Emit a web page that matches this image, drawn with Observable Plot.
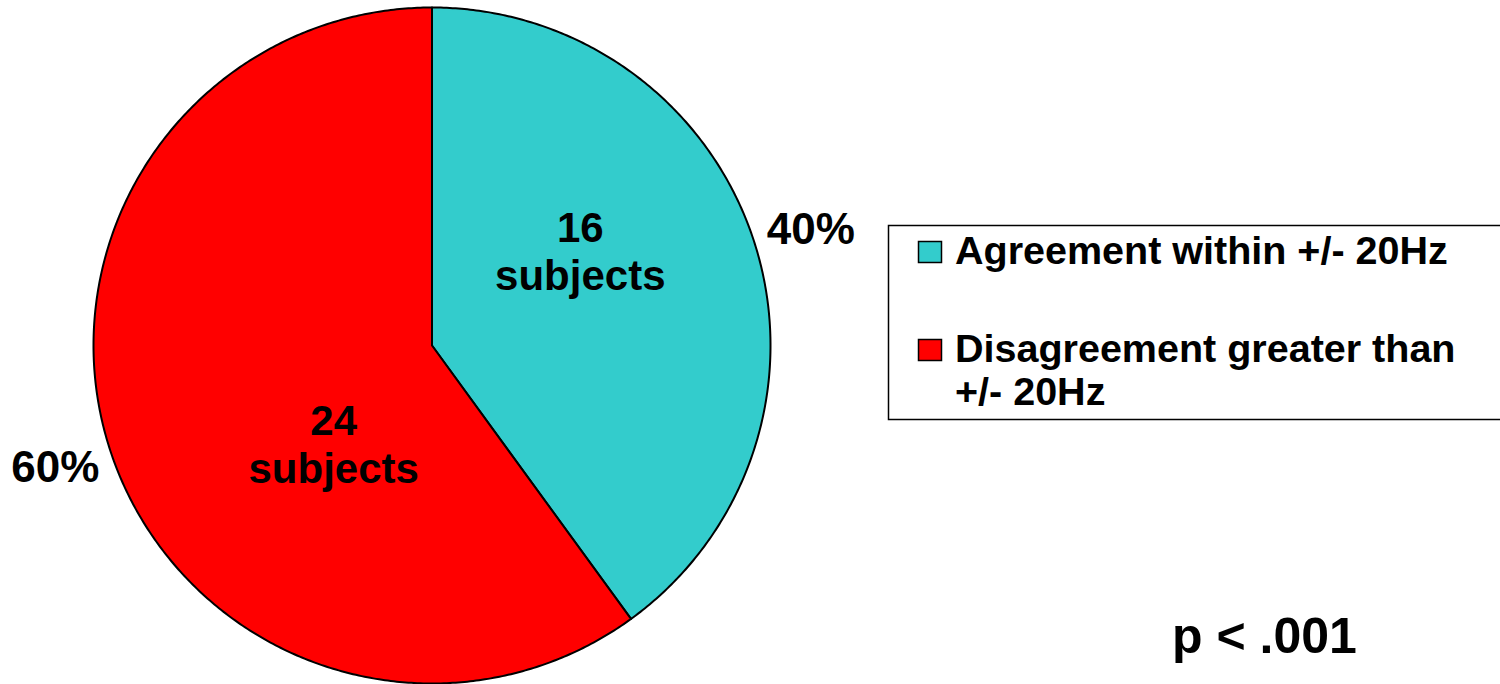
<!DOCTYPE html>
<html>
<head>
<meta charset="utf-8">
<script src="https://cdn.jsdelivr.net/npm/d3@7"></script>
<script src="https://cdn.jsdelivr.net/npm/@observablehq/plot@0.6"></script>
<style>
  html, body { margin: 0; padding: 0; background: #fff; }
  #chart { position: relative; width: 1500px; height: 684px; overflow: hidden; }
  svg { font-family: "Liberation Sans", Arial, sans-serif; }
</style>
</head>
<body>
<div id="chart"></div>
<script>
// Subjects grouped by agreement of the two frequency estimates
const categories = ["Agreement within +/- 20Hz", "Disagreement greater than +/- 20Hz"];
const subjects = [16, 24];
const sliceColors = ["#33CCCC", "#FF0000"];
// Legend entries broken into display lines
const legendLines = [["Agreement within +/- 20Hz"], ["Disagreement greater than", "+/- 20Hz"]];
const pValueText = "p < .001";

const FONT = "Liberation Sans, Arial, sans-serif";
const total = d3.sum(subjects);
const rows = categories.map((c, i) => ({cat: c, n: subjects[i]}));

// Slice angles: start at 12 o'clock, run clockwise, keep input order
const arcs = d3.pie().sort(null).value(d => d.n)(rows);

// Wedge outlines in unit-circle coordinates (y up), center -> arc -> center
const outline = [];
for (const a of arcs) {
  const steps = Math.ceil((a.endAngle - a.startAngle) / (Math.PI / 360));
  outline.push({cat: a.data.cat, x: 0, y: 0});
  for (let i = 0; i <= steps; i++) {
    const t = a.startAngle + (a.endAngle - a.startAngle) * i / steps;
    outline.push({cat: a.data.cat, x: Math.sin(t), y: Math.cos(t)});
  }
  outline.push({cat: a.data.cat, x: 0, y: 0});
}

const polar = (angle, r) => ({x: r * Math.sin(angle), y: r * Math.cos(angle)});
const deg = Math.PI / 180;

// Percentage labels just outside each wedge (angle from 12 o'clock, radius)
const pctFmt = d3.format(".0%");
const outerPlacement = [[73, 1.17], [252, 1.17]];
const outerLabels = arcs.map((a, i) => ({
  ...polar(outerPlacement[i][0] * deg, outerPlacement[i][1]),
  text: pctFmt(a.data.n / total)
}));

// Count labels inside the wedges
const innerPlacement = [[57.4, 0.52], [225.1, 0.41]];
const innerLabels = arcs.map((a, i) => ({
  ...polar(innerPlacement[i][0] * deg, innerPlacement[i][1]),
  text: `${a.data.n}\nsubjects`
}));

const plot = Plot.plot({
  width: 1500,
  height: 684,
  marginLeft: 93,
  marginRight: 730,
  marginTop: 7,
  marginBottom: 1,
  x: {domain: [-1, 1], axis: null},
  y: {domain: [-1, 1], axis: null},
  color: {domain: categories, range: sliceColors},
  style: {fontFamily: FONT, background: "white", overflow: "visible"},
  marks: [
    Plot.line(outline, {
      x: "x", y: "y", z: "cat", fill: "cat",
      stroke: "black", strokeWidth: 2, strokeLinejoin: "round"
    }),
    Plot.text(innerLabels, {
      x: "x", y: "y", text: "text",
      fontSize: 42, fontWeight: "bold", fill: "black",
      lineHeight: 48 / 42, lineAnchor: "middle", textAnchor: "middle"
    }),
    Plot.text(outerLabels, {
      x: "x", y: "y", text: "text",
      fontSize: 44, fontWeight: "bold", fill: "black", textAnchor: "middle"
    })
  ]
});

document.getElementById("chart").appendChild(plot);

// Legend box and significance note drawn into the same SVG
const svg = d3.select(plot);
const color = plot.scale("color");
const legend = svg.append("g")
  .attr("font-family", FONT).attr("font-weight", "bold").attr("font-size", 39.5)
  .attr("text-anchor", "start");

legend.append("rect")
  .attr("x", 888.5).attr("y", 225.5).attr("width", 640).attr("height", 194)
  .attr("fill", "white").attr("stroke", "black").attr("stroke-width", 1.5);

const rowBaselines = [264, 362];
const lineStep = 43;
legendLines.forEach((lines, i) => {
  legend.append("rect")
    .attr("x", 918.5).attr("y", rowBaselines[i] - 22.5)
    .attr("width", 23).attr("height", 21)
    .attr("fill", color.apply(categories[i]))
    .attr("stroke", "black").attr("stroke-width", 1.5);
  const t = legend.append("text").attr("x", 955).attr("y", rowBaselines[i]).attr("fill", "black");
  lines.forEach((ln, j) => {
    t.append("tspan").attr("x", 955).attr("y", rowBaselines[i] + j * lineStep).text(ln);
  });
});

svg.append("text")
  .attr("x", 1172).attr("y", 653)
  .attr("text-anchor", "start")
  .attr("font-family", FONT).attr("font-weight", "bold").attr("font-size", 50)
  .attr("fill", "black")
  .text(pValueText);
</script>
</body>
</html>
